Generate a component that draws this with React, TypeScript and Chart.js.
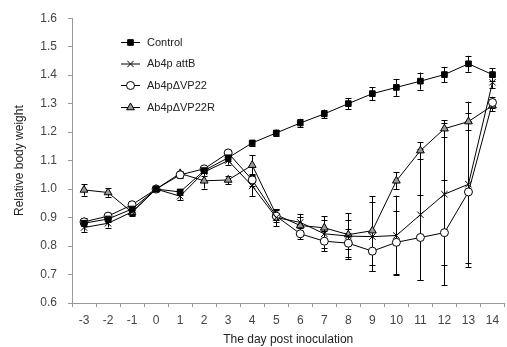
import React, { useEffect, useRef } from 'react';
import { Chart, registerables } from 'chart.js';
import { drawPoint } from 'chart.js/helpers';

Chart.register(...registerables);

const days = ['-3', '-2', '-1', '0', '1', '2', '3', '4', '5', '6', '7', '8', '9', '10', '11', '12', '13', '14'];
const yTicks = [0.6, 0.7, 0.8, 0.9, 1.0, 1.1, 1.2, 1.3, 1.4, 1.5, 1.6];

const seriesNames = ['Control', 'Ab4p attB', 'Ab4p\u0394VP22', 'Ab4p\u0394VP22R'];

const control = [0.88, 0.895, 0.93, 1.0, 0.99, 1.065, 1.11, 1.162, 1.197, 1.232, 1.264, 1.3, 1.335, 1.357, 1.379, 1.402, 1.44, 1.402];
const controlErr = [0.01, 0.01, 0.01, 0, 0.01, 0.01, 0.01, 0.01, 0.012, 0.015, 0.015, 0.02, 0.023, 0.03, 0.03, 0.027, 0.028, 0.023];

const attB = [0.865, 0.88, 0.92, 1.0, 0.975, 1.06, 1.1, 1.011, 0.9, 0.883, 0.843, 0.835, 0.833, 0.837, 0.91, 0.982, 1.017, 1.375];
const attBErr = [0.015, 0.015, 0.015, 0, 0.015, 0.015, 0.015, 0.035, 0.03, 0.03, 0.05, 0.08, 0.12, 0.14, 0.23, 0.25, 0.29, 0.02];

const vp22 = [0.885, 0.905, 0.945, 1.0, 1.05, 1.071, 1.127, 1.032, 0.905, 0.843, 0.817, 0.81, 0.782, 0.813, 0.83, 0.847, 0.99, 1.304];
const vp22Err = [0.015, 0.01, 0.01, 0, 0.01, 0.01, 0.01, 0.02, 0.02, 0.02, 0.035, 0.05, 0.07, 0.11, 0.15, 0.185, 0.25, 0.02];

const vp22R = [0.997, 0.988, 0.918, 1.0, 1.055, 1.029, 1.032, 1.084, 0.91, 0.872, 0.864, 0.84, 0.854, 1.029, 1.135, 1.212, 1.237, 1.293];
const vp22RErr = [0.02, 0.015, 0.01, 0, 0.01, 0.027, 0.015, 0.035, 0.02, 0.03, 0.04, 0.05, 0.12, 0.03, 0.03, 0.03, 0.03, 0.02];

const errorSets = [controlErr, attBErr, vp22Err, vp22RErr];

const FONT = '"Liberation Sans", Arial, sans-serif';

const errorBarPlugin = {
  id: 'errorBars',
  beforeDatasetsDraw(chart: any) {
    const ctx = chart.ctx;
    const ys = chart.scales.y;
    chart.data.datasets.forEach((ds: any, i: number) => {
      const meta = chart.getDatasetMeta(i);
      const errs = errorSets[i];
      meta.data.forEach((pt: any, j: number) => {
        const e = errs[j];
        if (!e) return;
        const v = ds.data[j];
        const yt = ys.getPixelForValue(v + e);
        const yb = ys.getPixelForValue(v - e);
        const x = Math.round(pt.x) + 0.5;
        ctx.save();
        ctx.strokeStyle = '#000';
        ctx.lineWidth = 1;
        ctx.beginPath();
        ctx.moveTo(x, yt);
        ctx.lineTo(x, yb);
        ctx.moveTo(x - 3, Math.round(yt) + 0.5);
        ctx.lineTo(x + 3, Math.round(yt) + 0.5);
        ctx.moveTo(x - 3, Math.round(yb) + 0.5);
        ctx.lineTo(x + 3, Math.round(yb) + 0.5);
        ctx.stroke();
        ctx.restore();
      });
    });
  },
};

const legendPlugin = {
  id: 'insideLegend',
  afterDraw(chart: any) {
    const ctx = chart.ctx;
    const rows = [42, 63.5, 85, 107];
    chart.data.datasets.forEach((ds: any, i: number) => {
      const y = rows[i];
      ctx.save();
      ctx.strokeStyle = '#000';
      ctx.lineWidth = 1;
      ctx.beginPath();
      ctx.moveTo(121, y + 0.5);
      ctx.lineTo(140, y + 0.5);
      ctx.stroke();
      ctx.fillStyle = ds.pointBackgroundColor;
      ctx.strokeStyle = '#000';
      drawPoint(ctx, { pointStyle: ds.pointStyle, radius: ds.pointRadius, rotation: 0, borderWidth: 1 }, 130.5, y + 0.5);
      ctx.fillStyle = '#222';
      ctx.font = '11px ' + FONT;
      ctx.textBaseline = 'middle';
      ctx.textAlign = 'left';
      ctx.fillText(ds.label, 147, y + 0.5);
      ctx.restore();
    });
  },
};

export default function App() {
  const ref = useRef<HTMLCanvasElement>(null);
  useEffect(() => {
    if (!ref.current) return;
    const mk = (label: string, data: number[], style: string, bg: string, r: number) => ({
      label,
      data,
      borderColor: '#000',
      borderWidth: 1,
      pointStyle: style,
      pointRadius: r,
      pointBackgroundColor: bg,
      pointBorderColor: '#000',
      pointBorderWidth: 1,
      fill: false,
      tension: 0,
    });
    const chart = new Chart(ref.current, {
      type: 'line',
      data: {
        labels: days,
        datasets: [
          mk(seriesNames[0], control, 'rect', '#000', 4),
          mk(seriesNames[1], attB, 'crossRot', '#000', 4.5),
          mk(seriesNames[2], vp22, 'circle', '#fff', 4),
          mk(seriesNames[3], vp22R, 'triangle', '#999', 4.5),
        ] as any,
      },
      options: {
        animation: false,
        responsive: false,
        events: [],
        layout: { padding: { top: 16, left: 0, right: 0, bottom: 0 } },
        plugins: { legend: { display: false }, tooltip: { enabled: false } },
        scales: {
          x: {
            type: 'category',
            offset: true,
            grid: { display: true, offset: true, drawOnChartArea: false, drawTicks: true, tickLength: 4, color: '#999' },
            border: { display: true, color: '#999', width: 1 },
            ticks: { color: '#444', font: { family: FONT, size: 12 }, padding: 6, maxRotation: 0, autoSkip: false },
            title: { display: true, text: 'The day post inoculation', color: '#222', font: { family: FONT, size: 12 }, padding: { top: 0, bottom: 0 } },
            afterFit: (s: any) => { s.height = 44; },
          },
          y: {
            type: 'linear',
            min: 0.6,
            max: 1.6,
            afterBuildTicks: (s: any) => { s.ticks = yTicks.map((v) => ({ value: v })); },
            grid: { display: true, drawOnChartArea: false, drawTicks: true, tickLength: 4, color: '#999' },
            border: { display: true, color: '#999', width: 1 },
            ticks: { color: '#444', font: { family: FONT, size: 12 }, padding: 11, callback: (v: any) => Number(v).toFixed(1) },
            title: { display: true, text: 'Relative body weight', color: '#222', font: { family: FONT, size: 12 }, padding: { top: 12, bottom: 0 } },
            afterFit: (s: any) => { s.width = 72; },
          },
        },
      } as any,
      plugins: [errorBarPlugin, legendPlugin],
    });
    return () => chart.destroy();
  }, []);
  return (
    <div style={{ position: 'absolute', left: 0, top: 0, width: 507, height: 347, overflow: 'hidden', background: '#fff' }}>
      <canvas ref={ref} width={510} height={347} style={{ display: 'block', width: 510, height: 347 }} />
    </div>
  );
}
